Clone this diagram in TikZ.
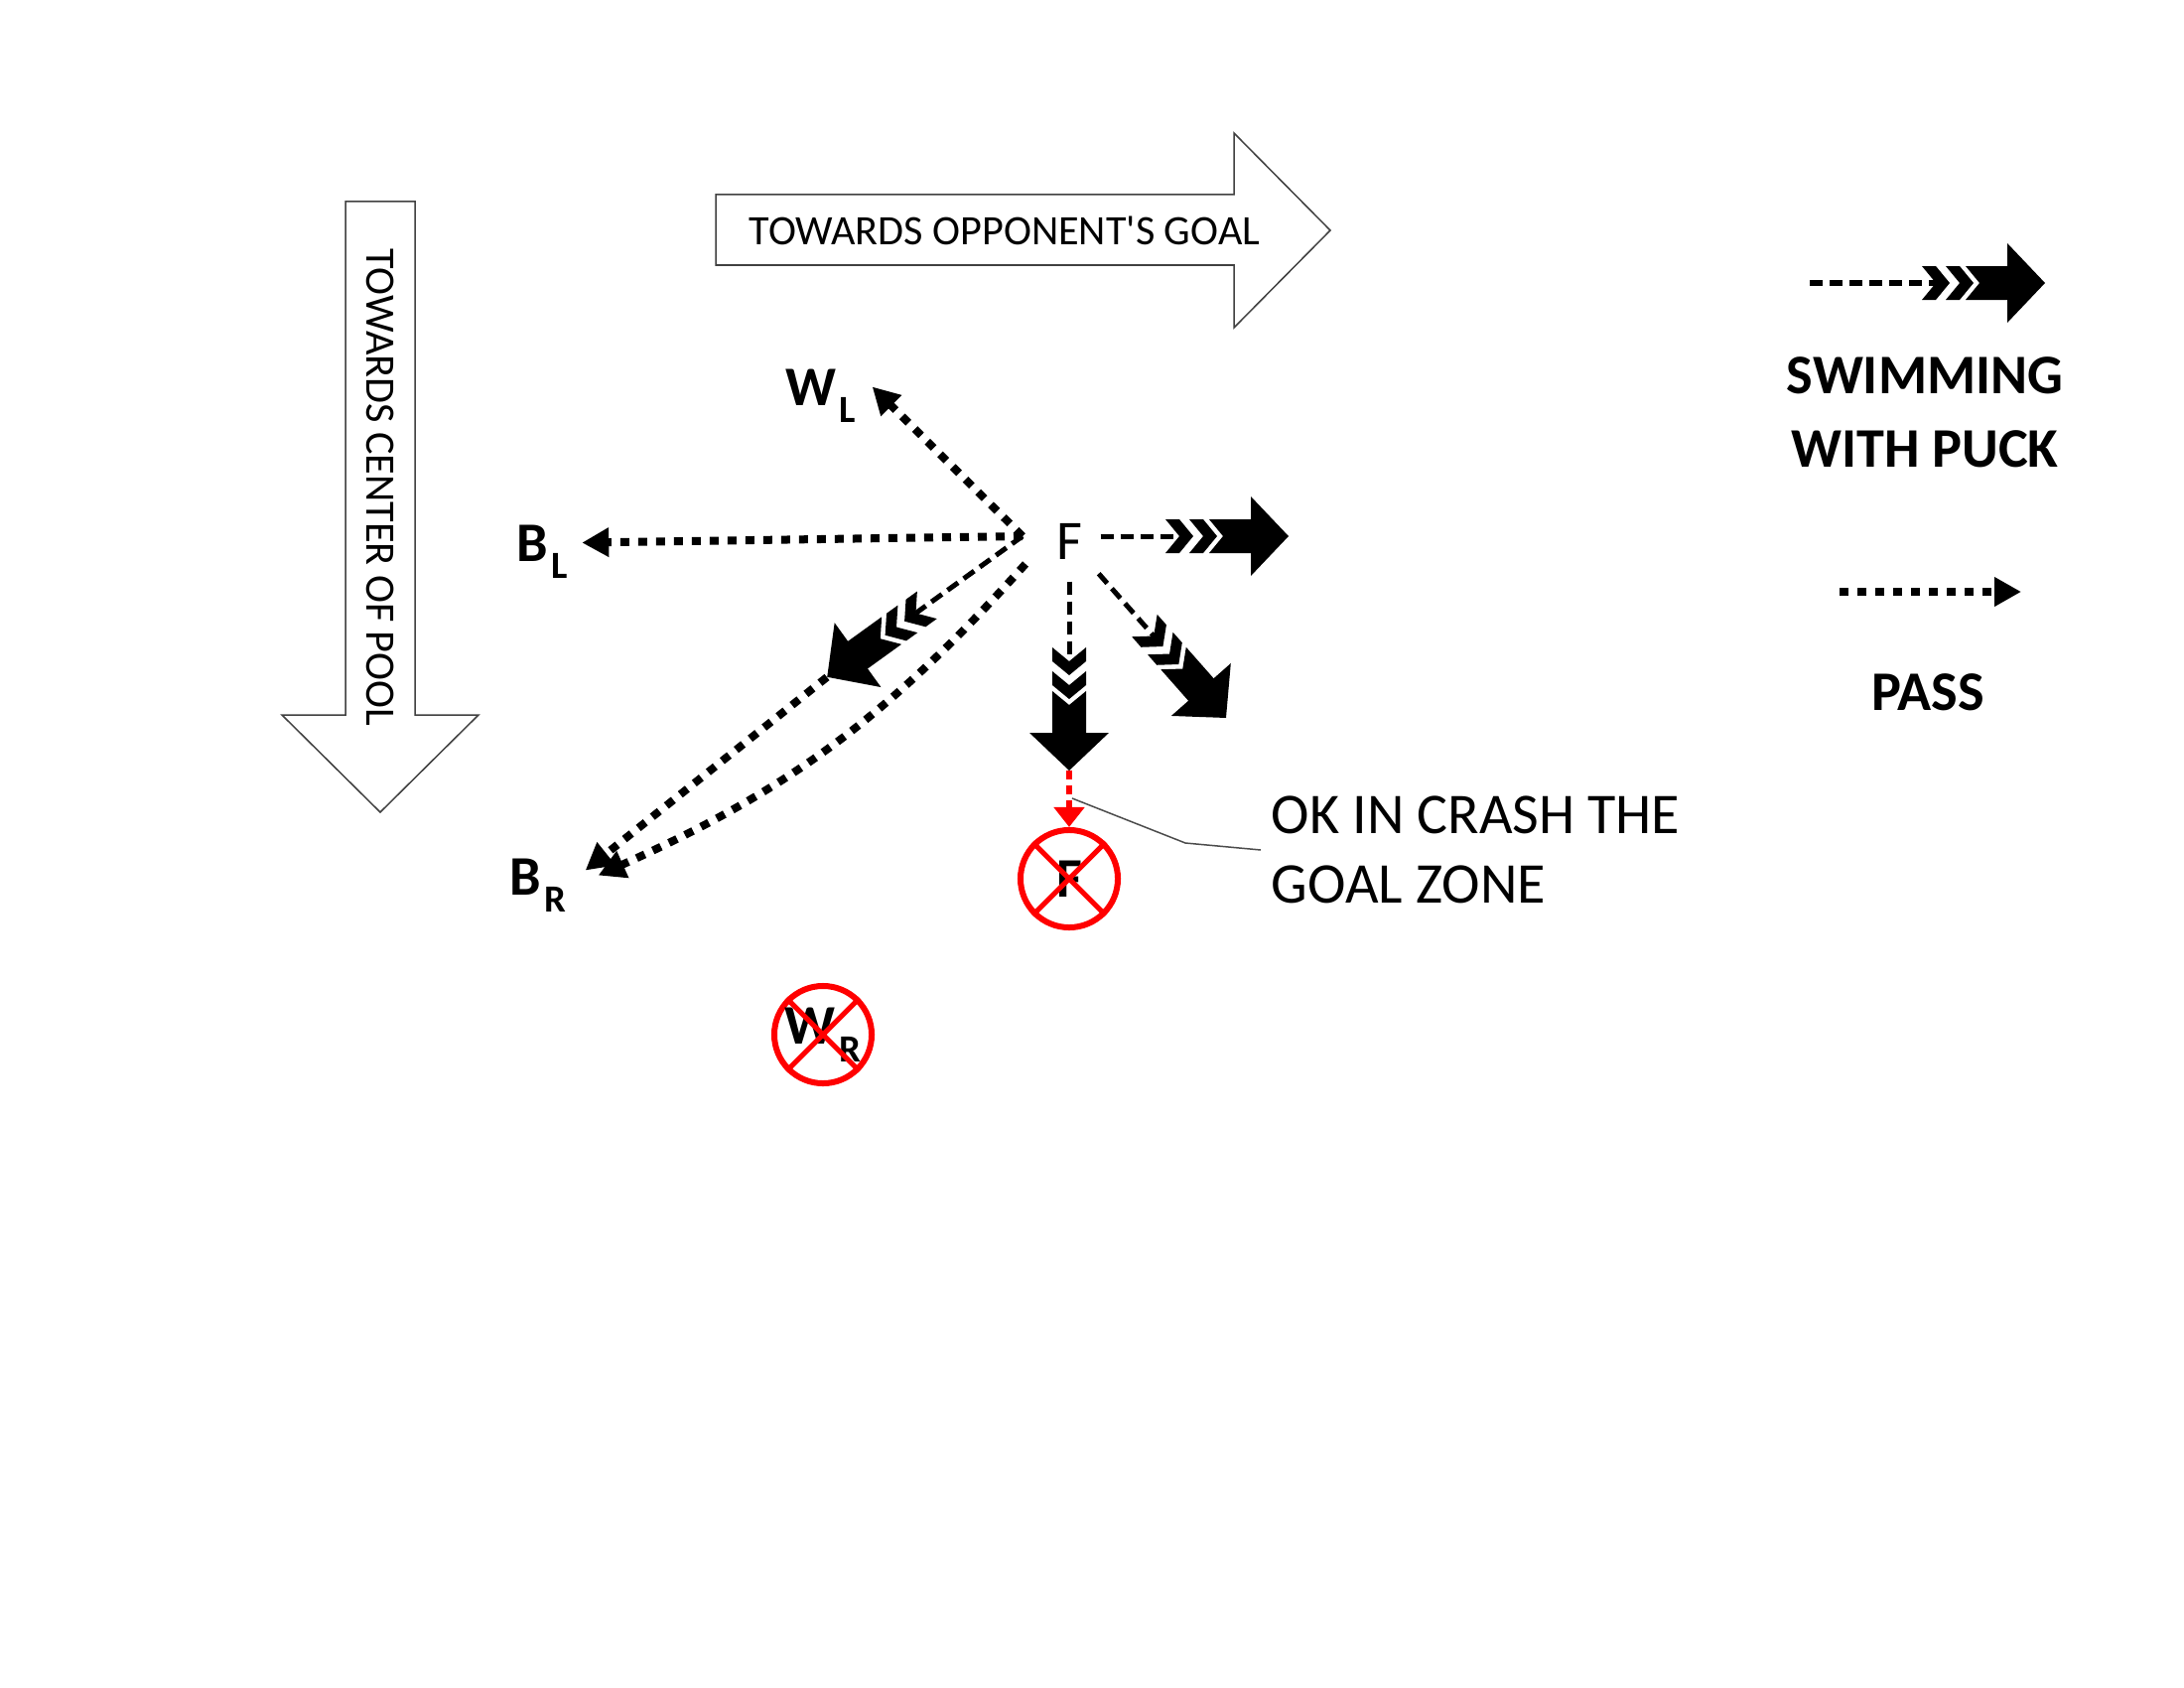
\documentclass[tikz,border=0pt]{standalone}
\usepackage{fontspec}
\setmainfont{Carlito}
\usepackage{tikz}
\usetikzlibrary{arrows.meta,calc,decorations.markings}

\newcommand{\player}[2]{#1\kern1pt\raisebox{-5pt}{\fontsize{11pt}{11pt}\selectfont #2}}
\newcommand{\swimhead}{%
  \fill[shorten >=0pt,solid] (0,0) -- (-38,40) -- (-38,-40) -- cycle;
  \fill[shorten >=0pt,solid] (-37,17) -- (-80,17) -- (-66,0) -- (-80,-17) -- (-37,-17) -- cycle;
  \foreach \tp in {-72,-96}
    \fill[shorten >=0pt,solid] (\tp,0) -- (\tp-14,17) -- (\tp-28,17) -- (\tp-14,0) -- (\tp-28,-17) -- (\tp-14,-17) -- cycle;
}

\begin{document}
\begin{tikzpicture}[x=0.01cm,y=-0.01cm,
    bigarrow/.style={draw=black!75,line width=0.015cm,fill=white},
    pass/.style={line width=0.08cm,dash pattern=on 0.09cm off 0.09cm,-{Triangle[length=0.27cm,width=0.28cm]}},
    swim/.style={line width=0.05cm,dash pattern=on 0.13cm off 0.07cm,shorten >=1.1cm,
      postaction={decorate,decoration={markings,mark=at position 1 with {\swimhead}}}},
    redpass/.style={red,line width=0.06cm,dash pattern=on 0.09cm off 0.06cm,-{Triangle[length=0.2cm,width=0.3cm]}},
    who/.style={font=\fontsize{16pt}{16pt}\selectfont\bfseries},
    offplayer/.style={circle,draw=red,line width=0.06cm,minimum size=0.98cm,inner sep=0pt,font=\fontsize{16pt}{16pt}\selectfont\bfseries},
    keytext/.style={font=\fontsize{16pt}{21pt}\selectfont\bfseries,align=center},
    callout/.style={draw=black!70,line width=0.015cm}]
  \useasboundingbox (0,0) rectangle (2200,1700);
  \fill[white] (0,0) rectangle (2200,1700);

  % direction arrows
  \draw[bigarrow] (721,196) -- (1243,196) -- (1243,134) -- (1340,232) -- (1243,330) -- (1243,267) -- (721,267) -- cycle;
  \node[font=\fontsize{12pt}{12pt}\selectfont] (goal) at (1012,232) {TOWARDS OPPONENT\textquotesingle S GOAL};
  \draw[bigarrow] (348,203) -- (418,203) -- (418,720) -- (482,720) -- (383,818) -- (284,720) -- (348,720) -- cycle;
  \node[rotate=-90,font=\fontsize{12pt}{12pt}\selectfont] (pool) at (383,491) {TOWARDS CENTER OF POOL};

  % players
  \node[font=\fontsize{16pt}{16pt}\selectfont,minimum width=0.62cm,minimum height=0.8cm,inner sep=0pt] (F) at (1077,545) {F};
  \node[who,anchor=base west] (WL) at (779,408) {\player{W}{L}};
  \node[who,anchor=base west] (BL) at (508,565) {\player{B}{L}};
  \node[who,anchor=base west] (BR) at (501,901) {\player{B}{R}};
  \node[offplayer] (Fout) at (1077,885) {F};
  \node[offplayer] (WRout) at (829,1042) {\player{W}{R}};
  \foreach \n in {Fout,WRout}
    \draw[red,line width=0.05cm] (\n.45) -- (\n.225) (\n.135) -- (\n.315);

  \coordinate (hub) at ($(F)+(-47,-5)$);
  \coordinate (swimE) at (1298,540);
  \coordinate (swimS) at (1077,776);
  \coordinate (swimSE) at (1235,723);
  \coordinate (swimSW) at (833,682);

  % swimming with puck
  \draw[swim] ($(F.east)+(0,-5)$) -- (swimE);
  \draw[swim] (F.south) -- (swimS);
  \draw[swim] ($(F.south east)+(-2,-8)$) -- (swimSE);
  \draw[swim] (hub) -- (swimSW);

  % passes
  \draw[pass] (hub) -- ($(WL.east)+(4,-9)$);
  \draw[pass] (hub) -- ($(BL.east)+(2,-9)$);
  \draw[pass] (swimSW) -- ($(BR.east)+(7,-15)$);
  \draw[pass] ($(hub)+(3,28)$) to[bend left=12] ($(BR.east)+(20,-10)$);
  \draw[redpass] (swimS) -- (Fout.north);

  % callout
  \node[font=\fontsize{16.5pt}{20pt}\selectfont,align=left,anchor=west,inner sep=0.1cm] (crash) at (1270,856) {OK IN CRASH THE\\GOAL ZONE};
  \coordinate (knee) at (1194,849);
  \coordinate (tap) at (1080,804);
  \draw[callout] (crash.west) -- (knee) -- (tap);

  % legend
  \coordinate (keyswimA) at (1823,285);
  \coordinate (keyswimB) at (2060,285);
  \draw[swim] (keyswimA) -- (keyswimB);
  \node[keytext] (keyswim) at (1939,415) {SWIMMING\\WITH PUCK};
  \coordinate (keypassA) at (1853,596);
  \coordinate (keypassB) at (2036,596);
  \draw[pass] (keypassA) -- (keypassB);
  \node[keytext] (keypass) at (1942,697) {PASS};
\end{tikzpicture}
\end{document}
